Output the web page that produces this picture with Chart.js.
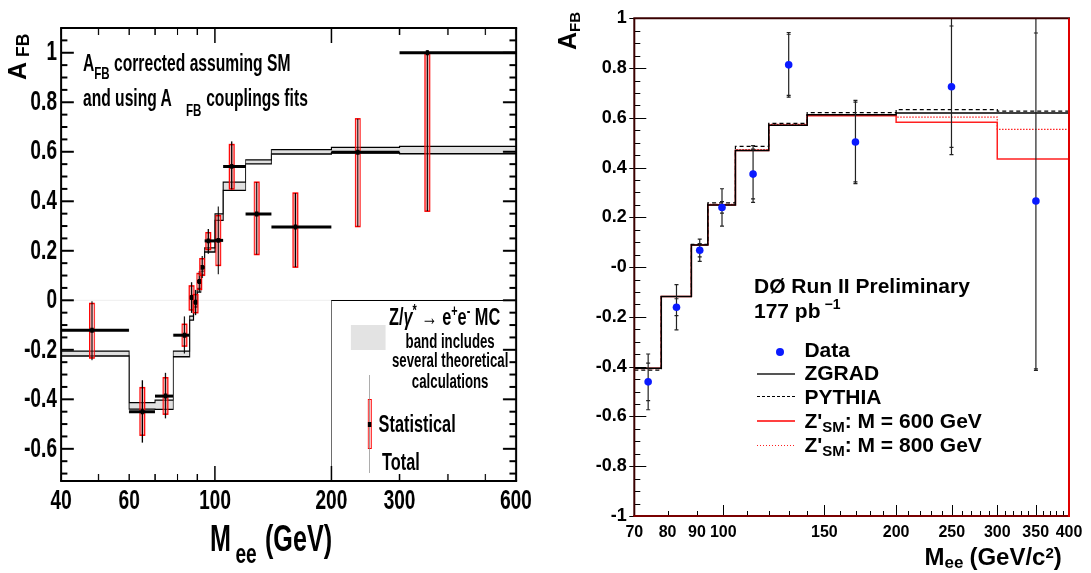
<!DOCTYPE html>
<html>
<head>
<meta charset="utf-8">
<script src="https://cdn.jsdelivr.net/npm/chart.js@4.4.1/dist/chart.umd.min.js"></script>
<style>
  html, body { margin: 0; padding: 0; background: #fff; }
  #page { position: relative; width: 1091px; height: 573px; overflow: hidden; font-family: 'Liberation Sans', Arial, Helvetica, sans-serif; }
  /* o painel da esquerda é desenhado largo e comprimido na horizontal, como no original */
  #left  { position: absolute; left: 0; top: 0; width: 794px; height: 573px; transform: scaleX(0.68); transform-origin: 0 0; }
  #right { position: absolute; left: 545px; top: 0; width: 546px; height: 573px; }
  canvas { position: absolute; left: 0; top: 0; }
  .lbl { position: absolute; white-space: nowrap; line-height: 1; font-weight: bold; color: #000; }
  .rot { transform-origin: 0 0; transform: rotate(-90deg); }
  .sub { position: relative; }
  .box { position: absolute; }
</style>
</head>
<body>
<div id="page">
  <div id="left"><canvas id="cLeft" width="794" height="573"></canvas></div>
  <div id="right"><canvas id="cRight" width="546" height="573"></canvas></div>
</div>
<script>
// ---------- painel esquerdo: A_FB corrigido + banda MC
const leftMass   = [48.1, 64.9, 74.5, 83.4, 87.0, 89.1, 91.1, 92.7, 96.1, 102.0, 110.5, 128.2, 161.4, 234, 354]
const leftAfb    = [-0.121, -0.450, -0.387, -0.141, 0.011, -0.008, 0.076, 0.133, 0.240, 0.242, 0.541, 0.349, 0.296, 0.598, 1.0]
const leftBinLo  = [40, 60, 70, 78, 86, 88, 90, 92, 94, 100, 105, 120, 140, 200, 300]
const leftBinHi  = [60, 70, 78, 86, 88, 90, 92, 94, 100, 105, 120, 140, 200, 300, 600]
const leftStatUp = [0.108, 0.097, 0.074, 0.044, 0.047, 0.031, 0.032, 0.035, 0.033, 0.100, 0.088, 0.128, 0.137, 0.135, 0.0]
const leftStatDn = [0.112, 0.095, 0.073, 0.044, 0.050, 0.042, 0.032, 0.032, 0.035, 0.101, 0.091, 0.164, 0.162, 0.300, 0.64]
const leftTotUp  = [0.117, 0.127, 0.094, 0.076, 0.062, 0.050, 0.042, 0.046, 0.048, 0.137, 0.101, 0.128, 0.137, 0.135, 0.01]
const leftTotDn  = [0.121, 0.125, 0.090, 0.074, 0.062, 0.052, 0.042, 0.043, 0.052, 0.137, 0.093, 0.164, 0.162, 0.300, 0.64]

const mcEdges = [40, 60, 70, 78, 86, 88, 90, 92, 94, 100, 105, 120, 140, 200, 300, 600]
const mcHigh  = [-0.205, -0.413, -0.403, -0.205, -0.064, -0.012, 0.048, 0.118, 0.212, 0.349, 0.477, 0.567, 0.609, 0.618, 0.622]
const mcLow   = [-0.225, -0.440, -0.441, -0.228, -0.080, -0.027, 0.033, 0.103, 0.195, 0.323, 0.444, 0.551, 0.591, 0.596, 0.592]

const leftXTicks  = [40, 50, 60, 70, 80, 90, 100, 200, 300, 400, 500, 600]
const leftXLabels = ['40', '', '60', '', '', '', '100', '200', '300', '', '', '600']
const leftXLong   = [100, 200]
const leftYMajor  = [-0.6, -0.4, -0.2, 0, 0.2, 0.4, 0.6, 0.8, 1]
const leftYLabels = ['-0.6', '-0.4', '-0.2', '0', '0.2', '0.4', '0.6', '0.8', '1']

// ---------- painel direito: DØ Run II
const rightMass   = [74.0, 82.9, 91.0, 99.5, 112.7, 130.0, 169.9, 249.7, 350.3]
const rightAfb    = [-0.461, -0.161, 0.068, 0.240, 0.374, 0.813, 0.503, 0.725, 0.266]
const rightStat   = [0.075, 0.034, 0.027, 0.023, 0.100, 0.123, 0.160, 0.244, 0.675]
const rightTotUp  = [0.112, 0.091, 0.045, 0.075, 0.114, 0.130, 0.167, 0.280, 0.740]
const rightTotDn  = [0.112, 0.091, 0.045, 0.075, 0.114, 0.130, 0.167, 0.273, 0.681]

const rightEdges = [70, 78, 88, 94, 105, 120, 140, 200, 300, 400]
const zgrad  = [-0.406, -0.118, 0.089, 0.250, 0.469, 0.570, 0.612, 0.619, 0.619]
const pythia = [-0.414, -0.118, 0.092, 0.258, 0.485, 0.578, 0.621, 0.633, 0.627]
const zp600  = [-0.406, -0.118, 0.089, 0.250, 0.469, 0.570, 0.608, 0.582, 0.435]
const zp800  = [-0.408, -0.118, 0.089, 0.252, 0.472, 0.574, 0.612, 0.603, 0.554]

const rightXLabelVals = [70, 80, 90, 100, 150, 200, 250, 300, 350, 400]
const rightXLabels    = ['70', '80', '90', '100', '150', '200', '250', '300', '350', '400']
const rightXLong      = [100, 150, 200, 250, 300, 350]
const rightYMajor  = [-1, -0.8, -0.6, -0.4, -0.2, 0, 0.2, 0.4, 0.6, 0.8, 1]
const rightYLabels = ['-1', '-0.8', '-0.6', '-0.4', '-0.2', '-0', '0.2', '0.4', '0.6', '0.8', '1']

Chart.defaults.font.family = "'Liberation Sans', Arial, Helvetica, sans-serif"
Chart.defaults.color = '#000'

const perto = (a, b) => Math.abs(a - b) < 1e-6
function passos(de, ate, passo) {
  const out = []
  for (let v = de; v <= ate + 1e-9; v += passo) out.push(Math.round(v * 1000) / 1000)
  return out
}
function linha(ctx, x1, y1, x2, y2) {
  ctx.beginPath(); ctx.moveTo(x1, y1); ctx.lineTo(x2, y2); ctx.stroke()
}
function degraus(edges, vals) {
  return edges.map((e, i) => ({ x: e, y: vals[Math.min(i, vals.length - 1)] }))
}

// ---------- plugins de desenho estilo ROOT
const painelEsq = {
  id: 'painelEsq',
  beforeDatasetsDraw(chart) {
    const { ctx, chartArea: a, scales: { y } } = chart
    ctx.save()
    ctx.strokeStyle = '#eeeeee'; ctx.lineWidth = 1
    linha(ctx, a.left, y.getPixelForValue(0), a.right, y.getPixelForValue(0))
    ctx.restore()
  },
  beforeDatasetDraw(chart, args) {
    if (args.index !== 0) return
    const { ctx, scales: { x, y } } = chart
    ctx.save()
    leftMass.forEach((m, i) => {
      const px = x.getPixelForValue(m)
      const py = y.getPixelForValue(leftAfb[i])
      const sTop = y.getPixelForValue(leftAfb[i] + leftStatUp[i])
      const sBot = y.getPixelForValue(leftAfb[i] - leftStatDn[i])
      ctx.fillStyle = 'rgba(255,110,110,0.45)'
      ctx.fillRect(px - 3.5, sTop, 7, sBot - sTop)
      ctx.strokeStyle = '#ff0000'; ctx.lineWidth = 1.5
      ctx.strokeRect(px - 3.5, sTop, 7, sBot - sTop)
      ctx.strokeStyle = '#000'; ctx.lineWidth = 1.6
      linha(ctx, px, y.getPixelForValue(leftAfb[i] + leftTotUp[i]), px, y.getPixelForValue(leftAfb[i] - leftTotDn[i]))
      ctx.lineWidth = 3
      linha(ctx, x.getPixelForValue(leftBinLo[i]), py, x.getPixelForValue(leftBinHi[i]), py)
    })
    ctx.restore()
  },
  afterDraw(chart) {
    const { ctx, chartArea: a, scales: { x, y } } = chart
    ctx.save()
    ctx.strokeStyle = '#000'
    ctx.lineWidth = 2
    leftXTicks.forEach(v => {
      const px = x.getPixelForValue(v)
      const len = leftXLong.includes(v) ? 15 : 7
      linha(ctx, px, a.bottom, px, a.bottom - len)
      linha(ctx, px, a.top, px, a.top + len)
    })
    y.ticks.forEach(t => {
      const py = y.getPixelForValue(t.value)
      const len = leftYMajor.some(m => perto(m, t.value)) ? 19 : 9.5
      linha(ctx, a.left, py, a.left + len, py)
      linha(ctx, a.right, py, a.right - len, py)
    })
    ctx.lineWidth = 2.2
    linha(ctx, a.left - 1.5, a.top, a.right + 1.5, a.top)
    linha(ctx, a.left - 1.5, a.bottom, a.right + 1.5, a.bottom)
    ctx.lineWidth = 3
    linha(ctx, a.left, a.top, a.left, a.bottom)
    linha(ctx, a.right, a.top, a.right, a.bottom)
    ctx.restore()
  }
}

const painelDir = {
  id: 'painelDir',
  beforeDatasetDraw(chart, args) {
    if (args.index !== 0) return
    const { ctx, chartArea: a, scales: { x, y } } = chart
    ctx.save()
    ctx.beginPath(); ctx.rect(a.left, a.top, a.right - a.left, a.bottom - a.top); ctx.clip()
    ctx.strokeStyle = '#222'; ctx.lineWidth = 1.2
    rightMass.forEach((m, i) => {
      const px = x.getPixelForValue(m)
      const yt = y.getPixelForValue(rightAfb[i] + rightTotUp[i])
      const yb = y.getPixelForValue(rightAfb[i] - rightTotDn[i])
      linha(ctx, px, yt, px, yb)
      const s1 = y.getPixelForValue(rightAfb[i] + rightStat[i])
      const s2 = y.getPixelForValue(rightAfb[i] - rightStat[i])
      for (const yy of [yt, yb, s1, s2]) linha(ctx, px - 2, yy, px + 2, yy)
    })
    ctx.restore()
  },
  afterDraw(chart) {
    const { ctx, chartArea: a, scales: { x, y } } = chart
    ctx.save()
    ctx.strokeStyle = '#000'; ctx.lineWidth = 1
    y.ticks.forEach(t => {
      const py = Math.round(y.getPixelForValue(t.value)) + 0.5
      if (rightYMajor.some(m => perto(m, t.value))) linha(ctx, a.left - 5, py, a.left + 12, py)
      else linha(ctx, a.left, py, a.left + 6, py)
    })
    x.ticks.forEach(t => {
      const px = Math.round(x.getPixelForValue(t.value)) + 0.5
      linha(ctx, px, a.bottom, px, a.bottom - (rightXLong.includes(t.value) ? 11 : 5))
    })
    ctx.lineWidth = 2
    ctx.strokeStyle = '#3a0000'
    linha(ctx, a.left - 1, a.top, a.right + 1, a.top)
    linha(ctx, a.left, a.top, a.left, a.bottom)
    ctx.strokeStyle = '#7a0000'
    linha(ctx, a.left - 1, a.bottom, a.right + 1, a.bottom)
    ctx.strokeStyle = '#e00000'
    linha(ctx, a.right, a.top, a.right, a.bottom + 1)
    ctx.restore()
  }
}

const semInteracao = {
  responsive: false, animation: false, devicePixelRatio: 1, events: [],
  plugins: { legend: { display: false }, tooltip: { enabled: false } },
}
const eixoLimpo = { grid: { display: false, drawTicks: false }, border: { display: false } }

new Chart(document.getElementById('cLeft'), {
  type: 'line',
  data: {
    datasets: [
      { label: 'Dados', data: leftMass.map((m, i) => ({ x: m, y: leftAfb[i] })), showLine: false,
        pointStyle: 'rect', pointRadius: 3.5, pointBackgroundColor: '#000', pointBorderWidth: 0, order: 0 },
      { label: 'MC inferior', data: degraus(mcEdges, mcLow), stepped: 'before', borderColor: '#000',
        borderWidth: 1.3, pointRadius: 0, fill: false, order: 1 },
      { label: 'MC superior', data: degraus(mcEdges, mcHigh), stepped: 'before', borderColor: '#000',
        borderWidth: 1.3, pointRadius: 0, fill: '-1', backgroundColor: '#e0e0e0', order: 2 },
    ],
  },
  options: {
    ...semInteracao,
    layout: { padding: { left: 0, right: 35.2, top: 28, bottom: 0 }, autoPadding: false },
    scales: {
      x: {
        type: 'logarithmic', min: 40, max: 600, bounds: 'data', ...eixoLimpo,
        afterBuildTicks: s => { s.ticks = leftXTicks.map(v => ({ value: v })) },
        afterFit: s => { s.height = 92 },
        ticks: { autoSkip: false, maxRotation: 0, minRotation: 0, padding: 3.5,
          font: { size: 28, weight: 'bold' }, callback: v => leftXLabels[leftXTicks.indexOf(v)] ?? '' },
      },
      y: {
        min: -0.73, max: 1.1, bounds: 'data', ...eixoLimpo,
        afterBuildTicks: s => { s.ticks = passos(-0.7, 1.1, 0.05).map(v => ({ value: v })) },
        afterFit: s => { s.width = 89.7 },
        ticks: { autoSkip: false, padding: 6, font: { size: 28, weight: 'bold' },
          callback: v => { const k = leftYMajor.findIndex(m => perto(m, v)); return k < 0 ? '' : leftYLabels[k] } },
      },
    },
  },
  plugins: [painelEsq],
})

new Chart(document.getElementById('cRight'), {
  type: 'line',
  data: {
    datasets: [
      { label: 'Data', data: rightMass.map((m, i) => ({ x: m, y: rightAfb[i] })), showLine: false,
        pointRadius: 3.8, pointBackgroundColor: '#0a1aff', pointBorderWidth: 0, order: 0 },
      { label: 'ZGRAD', data: degraus(rightEdges, zgrad), stepped: 'before', borderColor: '#000',
        borderWidth: 1.5, pointRadius: 0, fill: false, order: 1 },
      { label: 'PYTHIA', data: degraus(rightEdges, pythia), stepped: 'before', borderColor: '#000',
        borderWidth: 1.2, borderDash: [4, 3], pointRadius: 0, fill: false, order: 2 },
      { label: "Z'SM 600", data: degraus(rightEdges, zp600), stepped: 'before', borderColor: '#ff2020',
        borderWidth: 1.5, pointRadius: 0, fill: false, order: 3 },
      { label: "Z'SM 800", data: degraus(rightEdges, zp800), stepped: 'before', borderColor: '#ff2020',
        borderWidth: 1.2, borderDash: [1.5, 1.5], pointRadius: 0, fill: false, order: 4 },
    ],
  },
  options: {
    ...semInteracao,
    layout: { padding: { left: 0, right: 22, top: 7.3, bottom: 0 }, autoPadding: false },
    scales: {
      x: {
        type: 'logarithmic', min: 70, max: 400, bounds: 'data', ...eixoLimpo,
        afterBuildTicks: s => { s.ticks = passos(70, 400, 10).map(v => ({ value: v })) },
        afterFit: s => { s.height = 57 },
        ticks: { autoSkip: false, maxRotation: 0, minRotation: 0, padding: 7.4,
          font: { size: 16, weight: 'bold' },
          callback: v => { const k = rightXLabelVals.indexOf(v); return k < 0 ? '' : rightXLabels[k] } },
      },
      y: {
        min: -1, max: 1, bounds: 'data', ...eixoLimpo,
        afterBuildTicks: s => { s.ticks = passos(-1, 1, 0.05).map(v => ({ value: v })) },
        afterFit: s => { s.width = 89.3 },
        ticks: { autoSkip: false, padding: 7.5, font: { size: 18, weight: 'bold' },
          callback: v => { const k = rightYMajor.findIndex(m => perto(m, v)); return k < 0 ? '' : rightYLabels[k] } },
      },
    },
  },
  plugins: [painelDir],
})

// ---------- textos e legendas (HTML por cima dos canvas)
const page = document.getElementById('page')
const esq  = document.getElementById('left')

function texto(parent, html, x, base, size, extra = {}) {
  const d = document.createElement('div')
  d.className = 'lbl'
  d.innerHTML = html
  d.style.fontSize = size + 'px'
  d.style.left = x + 'px'
  d.style.top = (base - size * 0.8465) + 'px'
  if (extra.center) { d.style.width = '300px'; d.style.marginLeft = '-150px'; d.style.textAlign = 'center' }
  parent.appendChild(d)
  return d
}
function textoVertical(parent, html, baseX, startY, size) {
  const d = texto(parent, html, baseX - size * 0.8465, 0, size)
  d.style.top = startY + 'px'
  d.classList.add('rot')
  return d
}
function caixa(parent, css) {
  const d = document.createElement('div')
  d.className = 'box'
  d.style.cssText += css
  parent.appendChild(d)
  return d
}
const sub = (t, size, dy, extra = '') => `<span class="sub" style="font-size:${size}px;top:${dy}px;${extra}">${t}</span>`

// painel esquerdo (coordenadas lógicas, antes da compressão)
texto(esq, 'A' + sub('FB', 17, 8) + ' corrected assuming SM', 122, 71.7, 23)
texto(esq, 'and using A', 122, 106.7, 23)
texto(esq, 'FB', 273.5, 116.7, 17)
texto(esq, 'couplings fits', 303.2, 106.7, 23)

texto(esq, 'M', 308.8, 551.7, 37)
texto(esq, 'ee', 346.3, 563.3, 28)
texto(esq, '(GeV)', 389.7, 551.7, 37)

caixa(esq, 'left:487.3px;top:300px;width:271.5px;height:181px;border-left:1.5px solid #000;border-top:1px solid #000;box-sizing:border-box;')
caixa(esq, 'left:516px;top:325px;width:51px;height:25px;background:#e3e3e3;')
texto(esq, 'Z/<i>γ</i>' + sub('*', 16, -9) + ' → e' + sub('+', 16, -9) + 'e' + sub('-', 16, -9) + ' MC', 572, 325, 24)
texto(esq, 'band includes', 662, 348.3, 19.5, { center: true })
texto(esq, 'several theoretical', 662, 367.3, 19.5, { center: true })
texto(esq, 'calculations', 662, 388.3, 19.5, { center: true })
caixa(esq, 'left:540.6px;top:399px;width:6px;height:50px;border:1px solid #ff0000;background:rgba(255,110,110,0.45);box-sizing:border-box;')
caixa(esq, 'left:542.9px;top:375px;width:1.6px;height:98px;background:#888;')
caixa(esq, 'left:541.2px;top:421.5px;width:5px;height:5px;background:#000;')
texto(esq, 'Statistical', 556.8, 432.7, 24)
texto(esq, 'Total', 561.8, 470, 24)

// títulos verticais (coordenadas da página)
textoVertical(page, 'A' + sub('FB', 17.5, 3.4, 'margin-left:5px'), 25.9, 80, 25)
textoVertical(page, 'A' + sub('FB', 15, 4), 576, 50, 25)

// painel direito
texto(page, 'DØ Run II Preliminary', 754, 292.7, 21)
texto(page, '177 pb' + sub('−1', 14, -9, 'margin-left:4px'), 754, 317.3, 21)

caixa(page, 'left:776px;top:347.7px;width:8px;height:8px;border-radius:50%;background:#0a1aff;')
caixa(page, 'left:756.7px;top:373px;width:38.3px;height:2px;background:#555;')
caixa(page, 'left:756.7px;top:396px;width:38.3px;height:1.3px;background:repeating-linear-gradient(90deg,#000 0 3px,transparent 3px 5px);')
caixa(page, 'left:756.7px;top:420px;width:38.3px;height:2px;background:#ff4040;')
caixa(page, 'left:756.7px;top:444.5px;width:38.3px;height:1.3px;background:repeating-linear-gradient(90deg,#ff2020 0 1.5px,transparent 1.5px 3px);')
texto(page, 'Data', 804.4, 356.7, 21)
texto(page, 'ZGRAD', 804.4, 380, 21)
texto(page, 'PYTHIA', 804.4, 404, 21)
texto(page, "Z'" + sub('SM', 15, 4) + ': M = 600 GeV', 804.4, 428, 21)
texto(page, "Z'" + sub('SM', 15, 4) + ': M = 800 GeV', 804.4, 451.7, 21)

texto(page, 'M' + sub('ee', 17, 3, 'margin-right:6px') + '(GeV/c' + sub('2', 15, -7) + ')', 924.5, 565, 24)
</script>
</body>
</html>
